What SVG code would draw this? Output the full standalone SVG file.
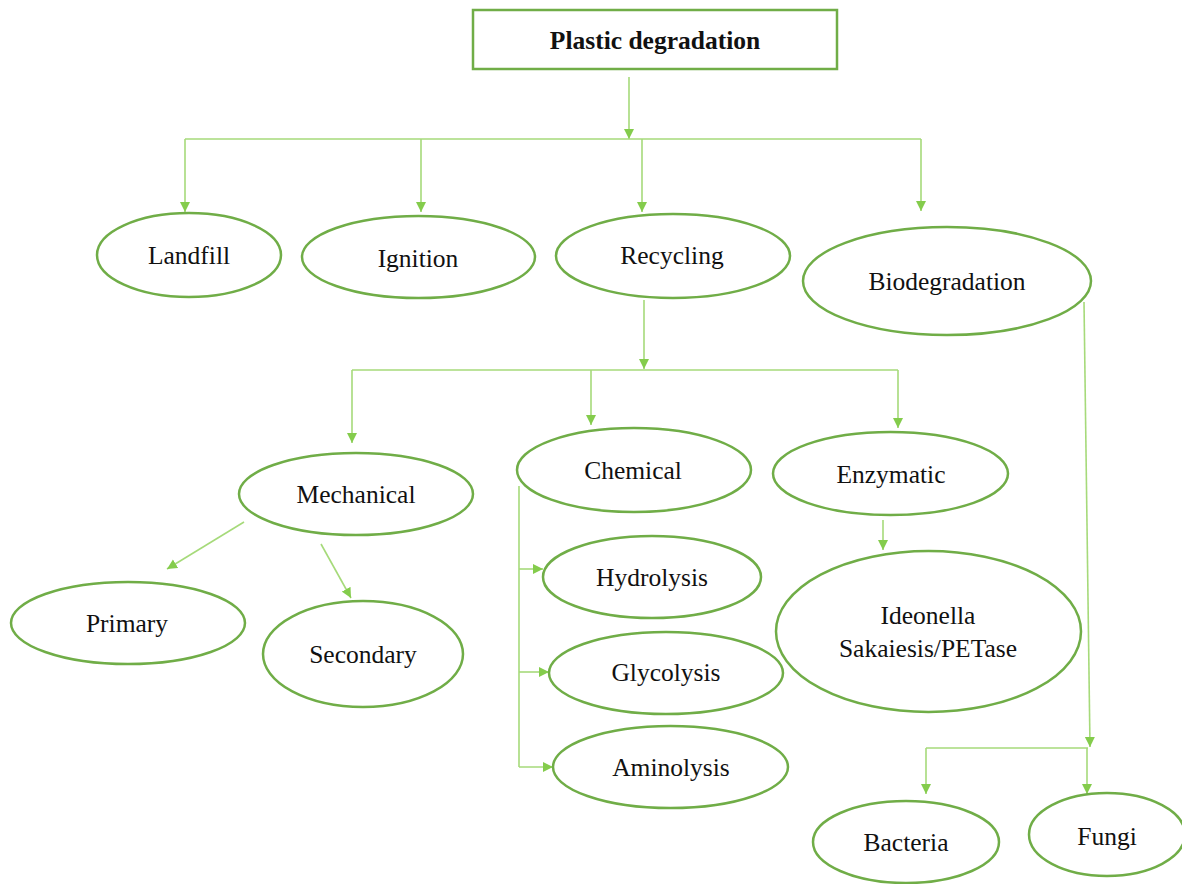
<svg xmlns="http://www.w3.org/2000/svg" width="1182" height="884" viewBox="0 0 1182 884">
<style>
.node{fill:#ffffff;stroke:#70AD47;stroke-width:2.5}
.lbl{font-family:"Liberation Serif","Times New Roman",serif;font-size:25.5px;fill:#111111;text-anchor:middle}
.title{font-weight:bold}
.conn path{fill:none;stroke:#A6DA7A;stroke-width:1.6}
.arr{marker-end:url(#ah)}
</style>
<defs>
<marker id="ah" viewBox="0 0 10 10" refX="10" refY="5" markerWidth="10" markerHeight="11" orient="auto" markerUnits="userSpaceOnUse">
<path d="M0,0 L10,5 L0,10 z" fill="#84CC4C"/>
</marker>
</defs>
<rect width="1182" height="884" fill="#ffffff"/>
<g id="connectors" class="conn">
<path class="arr" d="M629,77 V139"/>
<path d="M185,139 H921"/>
<path class="arr" d="M185,139 V212"/>
<path class="arr" d="M421,139 V212"/>
<path class="arr" d="M642,139 V212"/>
<path class="arr" d="M921,139 V211"/>
<path class="arr" d="M644,300 V369"/>
<path d="M352,370 H898"/>
<path class="arr" d="M352,370 V443"/>
<path class="arr" d="M591,370 V425"/>
<path class="arr" d="M898,370 V428"/>
<path class="arr" d="M883,520 V550"/>
<path class="arr" d="M244,522 L167,569"/>
<path class="arr" d="M321,544 L351,598"/>
<path d="M519,486 V767"/>
<path class="arr" d="M519,569 H543"/>
<path class="arr" d="M519,672 H549"/>
<path class="arr" d="M519,767 H553"/>
<path class="arr" d="M1084,302 L1090,747"/>
<path d="M926,748 H1088"/>
<path class="arr" d="M926,748 V794"/>
<path class="arr" d="M1087,748 V794"/>
</g>
<g id="plastic-degradation">
<rect class="node" x="473" y="10" width="364" height="59"/>
<text class="lbl title" x="655" y="49">Plastic degradation</text>
</g>
<g id="landfill">
<ellipse class="node" cx="189" cy="255" rx="92" ry="42"/>
<text class="lbl" x="189" y="264">Landfill</text>
</g>
<g id="ignition">
<ellipse class="node" cx="418.5" cy="257" rx="116.5" ry="41"/>
<text class="lbl" x="418" y="267">Ignition</text>
</g>
<g id="recycling">
<ellipse class="node" cx="673" cy="256" rx="117" ry="42"/>
<text class="lbl" x="672" y="264">Recycling</text>
</g>
<g id="biodegradation">
<ellipse class="node" cx="947" cy="281" rx="144" ry="54"/>
<text class="lbl" x="947" y="290">Biodegradation</text>
</g>
<g id="mechanical">
<ellipse class="node" cx="356" cy="494" rx="117" ry="41"/>
<text class="lbl" x="356" y="503">Mechanical</text>
</g>
<g id="chemical">
<ellipse class="node" cx="634" cy="470" rx="117" ry="42"/>
<text class="lbl" x="633" y="479">Chemical</text>
</g>
<g id="enzymatic">
<ellipse class="node" cx="890.5" cy="473.5" rx="117.5" ry="41.5"/>
<text class="lbl" x="891" y="483">Enzymatic</text>
</g>
<g id="primary">
<ellipse class="node" cx="128" cy="623" rx="117" ry="41"/>
<text class="lbl" x="127" y="632">Primary</text>
</g>
<g id="secondary">
<ellipse class="node" cx="363" cy="654" rx="100" ry="53"/>
<text class="lbl" x="363" y="663">Secondary</text>
</g>
<g id="hydrolysis">
<ellipse class="node" cx="652" cy="577" rx="109" ry="41"/>
<text class="lbl" x="652" y="586">Hydrolysis</text>
</g>
<g id="glycolysis">
<ellipse class="node" cx="666" cy="673" rx="117" ry="41"/>
<text class="lbl" x="666" y="681">Glycolysis</text>
</g>
<g id="aminolysis">
<ellipse class="node" cx="670.5" cy="767" rx="117.5" ry="41"/>
<text class="lbl" x="671" y="776">Aminolysis</text>
</g>
<g id="ideonella">
<ellipse class="node" cx="928.5" cy="631.5" rx="152.5" ry="80.5"/>
<text class="lbl" x="928" y="624">Ideonella</text>
<text class="lbl" x="928" y="657">Sakaiesis/PETase</text>
</g>
<g id="bacteria">
<ellipse class="node" cx="906" cy="842" rx="93" ry="41"/>
<text class="lbl" x="906" y="851">Bacteria</text>
</g>
<g id="fungi">
<ellipse class="node" cx="1107" cy="834.5" rx="78" ry="41.5"/>
<text class="lbl" x="1107" y="845">Fungi</text>
</g>
</svg>
